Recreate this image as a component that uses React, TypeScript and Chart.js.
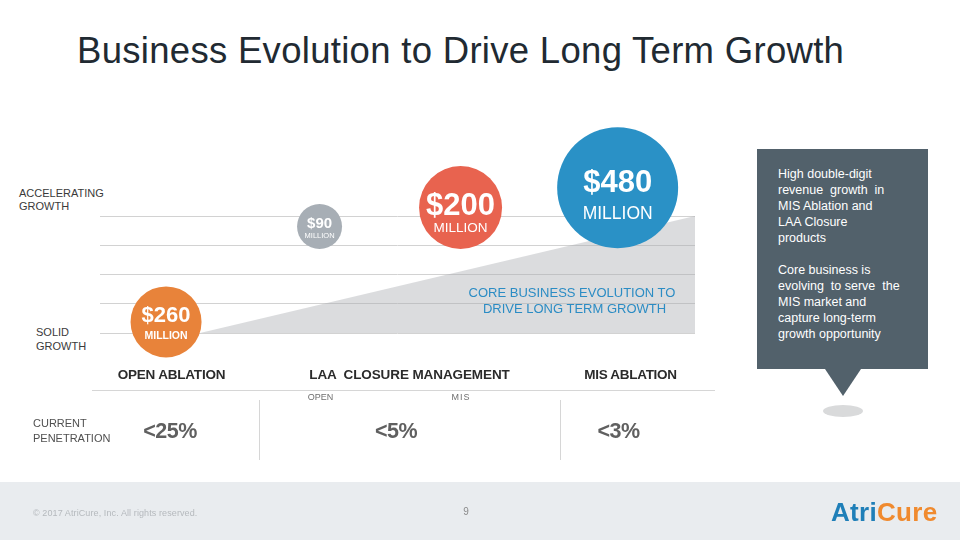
import React, { useEffect, useRef } from "react";
import { Chart, registerables } from "chart.js";

Chart.register(...registerables);

// ---------- data ----------
const bubbleLabels = ["$260", "$90", "$200", "$480"];
const bubbleUnits = ["MILLION", "MILLION", "MILLION", "MILLION"];
const bubbleX = [11.1, 36.9, 60.6, 87.0];
const bubbleY = [0.38, 3.64, 4.29, 4.97];
const bubbleR = [35.5, 22.5, 41.5, 60.5];
const bubbleColors = ["#E8833A", "#A7AEB5", "#E8634F", "#2A91C6"];

const trendX = [16.8, 100];
const trendY = [0, 4];

const yTicks = [0, 1, 2, 3, 4];
const yAxisLabels = [["ACCELERATING", "GROWTH"], ["SOLID", "GROWTH"]];

const categories = ["OPEN ABLATION", "LAA  CLOSURE MANAGEMENT", "MIS ABLATION"];
const subCategories = ["OPEN", "MIS"];
const penetration = ["<25%", "<5%", "<3%"];
const penetrationLabel = ["CURRENT", "PENETRATION"];
const trendCaption = ["CORE BUSINESS EVOLUTION TO", "DRIVE LONG TERM GROWTH"];
const calloutLines = [
  "High double-digit",
  "revenue  growth  in",
  "MIS Ablation and",
  "LAA Closure",
  "products",
  "",
  "Core business is",
  "evolving  to serve  the",
  "MIS market and",
  "capture long-term",
  "growth opportunity",
];

// ---------- styles ----------
const FONT = '"Liberation Sans", Arial, Helvetica, sans-serif';
const bigSize = [22, 15, 31, 31];
const bigDy = [-8, -3.5, -3.5, -6.5];
const smallSize = [10.5, 7.5, 13.5, 17.5];
const smallBold = [true, false, false, false];
const smallDy = [13, 9, 19.5, 25];

const bubbleTextPlugin = {
  id: "bubbleText",
  afterDatasetsDraw(chart: any) {
    const meta = chart.getDatasetMeta(1);
    const ctx = chart.ctx;
    ctx.save();
    ctx.fillStyle = "#ffffff";
    ctx.textAlign = "center";
    ctx.textBaseline = "alphabetic";
    meta.data.forEach((el: any, i: number) => {
      const s1 = bigSize[i];
      ctx.font = `bold ${s1}px ${FONT}`;
      ctx.fillText(bubbleLabels[i], el.x, el.y + bigDy[i] + 0.358 * s1);
      const s2 = smallSize[i];
      ctx.font = `${smallBold[i] ? "bold " : ""}${s2}px ${FONT}`;
      ctx.fillText(bubbleUnits[i], el.x, el.y + smallDy[i] + 0.358 * s2);
    });
    ctx.restore();
  },
};

type TProps = {
  x: number;
  y: number;
  size: number;
  text: string;
  color?: string;
  bold?: boolean;
  align?: "left" | "center";
  spacing?: number;
};

function T({ x, y, size, text, color = "#333", bold = false, align = "left", spacing = 0 }: TProps) {
  const style: React.CSSProperties = {
    position: "absolute",
    top: y - size / 2,
    fontSize: size,
    lineHeight: `${size}px`,
    fontFamily: FONT,
    fontWeight: bold ? 700 : 400,
    color,
    whiteSpace: "pre",
    letterSpacing: spacing,
  };
  if (align === "center") {
    style.left = x - 300;
    style.width = 600;
    style.textAlign = "center";
  } else {
    style.left = x;
  }
  return <div style={style}>{text}</div>;
}

export default function App() {
  const ref = useRef<HTMLCanvasElement | null>(null);

  useEffect(() => {
    if (!ref.current) return;
    const chart = new Chart(ref.current, {
      type: "bubble",
      data: {
        datasets: [
          {
            type: "line",
            data: trendX.map((x, i) => ({ x, y: trendY[i] })),
            fill: "origin",
            backgroundColor: "rgba(170,172,176,0.42)",
            borderWidth: 0,
            pointRadius: 0,
            tension: 0,
            order: 2,
          } as any,
          {
            type: "bubble",
            data: bubbleX.map((x, i) => ({ x, y: bubbleY[i], r: bubbleR[i] })),
            backgroundColor: bubbleColors,
            borderWidth: 0,
            hoverBorderWidth: 0,
            clip: false,
            order: 1,
          } as any,
        ],
      },
      options: {
        responsive: false,
        animation: false,
        devicePixelRatio: 1,
        events: [],
        layout: { padding: { left: 100, right: 265, top: 216, bottom: 207 } },
        plugins: { legend: { display: false }, tooltip: { enabled: false } },
        scales: {
          x: { type: "linear", min: 0, max: 100, display: false },
          y: {
            type: "linear",
            min: yTicks[0],
            max: yTicks[yTicks.length - 1],
            ticks: { display: false, stepSize: 1 },
            border: { display: false },
            grid: { color: "#D2D2D2", lineWidth: 1, drawTicks: false },
          },
        },
      } as any,
      plugins: [bubbleTextPlugin],
    });
    return () => chart.destroy();
  }, []);

  return (
    <div
      style={{
        position: "absolute",
        left: 0,
        top: 0,
        width: 960,
        height: 540,
        overflow: "hidden",
        background: "#ffffff",
        fontFamily: FONT,
      }}
    >
      {/* title */}
      <T x={77} y={51.5} size={36.5} spacing={0.3} text="Business Evolution to Drive Long Term Growth" color="#212A32" />

      {/* y-axis descriptors */}
      <T x={19} y={193} size={11} text={yAxisLabels[0][0]} color="#3a3a3a" />
      <T x={19} y={206.5} size={11} text={yAxisLabels[0][1]} color="#3a3a3a" />
      <T x={36} y={332} size={11} text={yAxisLabels[1][0]} color="#3a3a3a" />
      <T x={36} y={346} size={11} text={yAxisLabels[1][1]} color="#3a3a3a" />

      {/* footer band */}
      <div style={{ position: "absolute", left: 0, top: 482, width: 960, height: 58, background: "#E9ECEF" }} />

      {/* chart canvas */}
      <canvas
        ref={ref}
        width={960}
        height={540}
        style={{ position: "absolute", left: 0, top: 0, width: 960, height: 540 }}
      />

      {/* trend caption */}
      <T x={572} y={292} size={13} text={trendCaption[0]} color="#2B8CC4" align="center" />
      <T x={574.5} y={308} size={13} text={trendCaption[1]} color="#2B8CC4" align="center" />

      {/* categories */}
      <T x={171.5} y={375} size={13.5} text={categories[0]} color="#2b2b2b" bold align="center" spacing={-0.2} />
      <T x={409.5} y={375} size={13.5} text={categories[1]} color="#2b2b2b" bold align="center" spacing={-0.1} />
      <T x={630.5} y={375} size={13.5} text={categories[2]} color="#2b2b2b" bold align="center" spacing={-0.3} />
      <div style={{ position: "absolute", left: 92, top: 390, width: 623, height: 1, background: "#D6D6D6" }} />
      <T x={320.5} y={397} size={9} text={subCategories[0]} color="#6f6f6f" align="center" />
      <T x={461} y={397} size={9} text={subCategories[1]} color="#6f6f6f" align="center" spacing={1} />

      {/* separators */}
      <div style={{ position: "absolute", left: 259, top: 400, width: 1, height: 60, background: "#D6D6D6" }} />
      <div style={{ position: "absolute", left: 560, top: 400, width: 1, height: 60, background: "#D6D6D6" }} />

      {/* penetration */}
      <T x={33} y={423} size={11} text={penetrationLabel[0]} color="#505050" />
      <T x={33} y={438} size={11} text={penetrationLabel[1]} color="#505050" />
      <T x={170} y={432} size={21.5} text={penetration[0]} color="#606060" bold align="center" spacing={-0.5} />
      <T x={396} y={432} size={21.5} text={penetration[1]} color="#606060" bold align="center" spacing={-0.5} />
      <T x={618.5} y={432} size={21.5} text={penetration[2]} color="#606060" bold align="center" spacing={-0.5} />

      {/* callout */}
      <div style={{ position: "absolute", left: 757, top: 149, width: 171, height: 220, background: "#52616B" }} />
      <div
        style={{
          position: "absolute",
          left: 825,
          top: 369,
          width: 0,
          height: 0,
          borderLeft: "18px solid transparent",
          borderRight: "18px solid transparent",
          borderTop: "27px solid #52616B",
        }}
      />
      <div
        style={{
          position: "absolute",
          left: 823,
          top: 405,
          width: 40,
          height: 12,
          borderRadius: "50%",
          background: "#D9DADB",
        }}
      />
      {calloutLines.map((line, i) =>
        line ? <T key={i} x={778} y={174 + i * 16} size={12.5} text={line} color="#ffffff" /> : null
      )}

      {/* footer */}
      <T x={33} y={513} size={9} spacing={0.1} text="© 2017 AtriCure, Inc. All rights reserved." color="#B5B9BD" />
      <T x={466} y={512} size={10} text="9" color="#8a8a8a" align="center" />
      <div
        style={{
          position: "absolute",
          left: 831,
          top: 499,
          fontFamily: FONT,
          fontWeight: 700,
          fontSize: 26,
          lineHeight: "26px",
          letterSpacing: 0.3,
          whiteSpace: "pre",
        }}
      >
        <span style={{ color: "#1F7FB8" }}>Atri</span>
        <span style={{ color: "#F08A2E" }}>Cure</span>
      </div>
    </div>
  );
}
